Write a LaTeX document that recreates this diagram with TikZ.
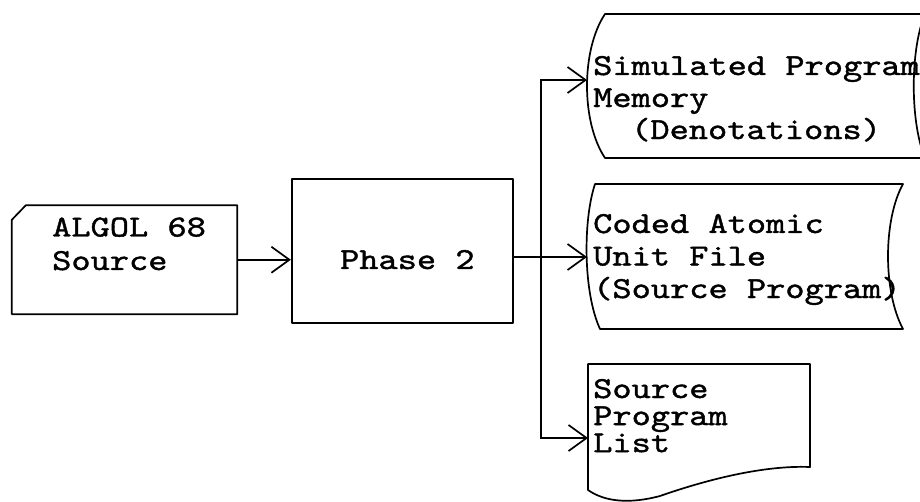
\documentclass[tikz,border=0pt]{standalone}
\usepackage{fontspec}
\newfontfamily\typer{lmmono10-regular.otf}[FakeStretch=1.2, FakeBold=1.3]
\usetikzlibrary{arrows.meta,calc}

% several lines of typed text, first baseline at the node's base
\newcommand\textlines[2]{{\renewcommand\arraystretch{#1}\begin{tabular}[t]{@{}l@{}}#2\end{tabular}}}

\tikzset{
  outline/.style={draw=black, line width=1.7pt, line join=round},
  flow/.style={draw=black, line width=1.7pt,
    -{Straight Barb[length=18pt,width=26pt,line width=1.7pt]}},
  typed/.style={font=\typer\fontsize{30.5}{33}\selectfont},
  words/.style={typed, inner sep=0pt, anchor=base west},
}

\begin{document}
\begin{tikzpicture}[x=1pt,y=-1pt]
\useasboundingbox (0,0) rectangle (920,502);
\clip (0,0) rectangle (920,502);

% punched card input (outline with a clipped top-left corner)
\node[minimum width=225pt, minimum height=108.5pt, inner sep=0pt]
      (card) at (124.5,259.75) {};
\draw[outline] ($(card.north west)+(14,0)$) -- (card.north east)
  -- (card.south east) -- (card.south west)
  -- ($(card.north west)+(0,14.5)$) -- cycle;
\node[words] (cardtext) at (52,236.5) {\textlines{1.015}{ALGOL 68\\Source}};

% processing step
\node[outline, typed, minimum width=221.3pt, minimum height=144pt, inner sep=0pt,
      text height=40pt, text depth=4pt] (phase) at (402.35,251)
      {\hspace*{10pt}Phase 2};

% storage: simulated program memory
\draw[outline] (605,14) -- (925,14)
  .. controls (910,50) and (910,122) .. (925,158) -- (605,158)
  .. controls (581,122) and (581,50) .. cycle;
\node[words] (simtext) at (593,75)
  {\textlines{0.97}{Simulated Program\\Memory\\\hspace*{38pt}(Denotations)}};

% storage: coded atomic unit file
\draw[outline] (595,184) -- (903,184)
  .. controls (883,220) and (883,292) .. (903,329) -- (600,329)
  .. controls (583,292) and (583,220) .. cycle;
\node[words] (codtext) at (593,233)
  {\textlines{0.985}{Coded Atomic\\Unit File\\(Source Program)}};

% printed document: source program list
\draw[outline] (588,364) -- (810,364) -- (810,467)
  .. controls (760,465) and (700,482) .. (660,496)
  .. controls (630,504) and (605,502) .. (588,490) -- cycle;
\node[words] (lsttext) at (593,398) {\textlines{0.82}{Source\\Program\\List}};

% connectors
\coordinate (split) at (541,257);
\coordinate (simin) at (587,80);
\coordinate (codin) at (587,257);
\coordinate (lstin) at (588,438);

\draw[flow] (card.east) -- (phase.west |- card.east);
\draw[outline] (phase.east |- split) -- (split);
\draw[flow] (split) |- (simin);
\draw[flow] (split) -- (codin);
\draw[flow] (split) |- (lstin);
\end{tikzpicture}
\end{document}
